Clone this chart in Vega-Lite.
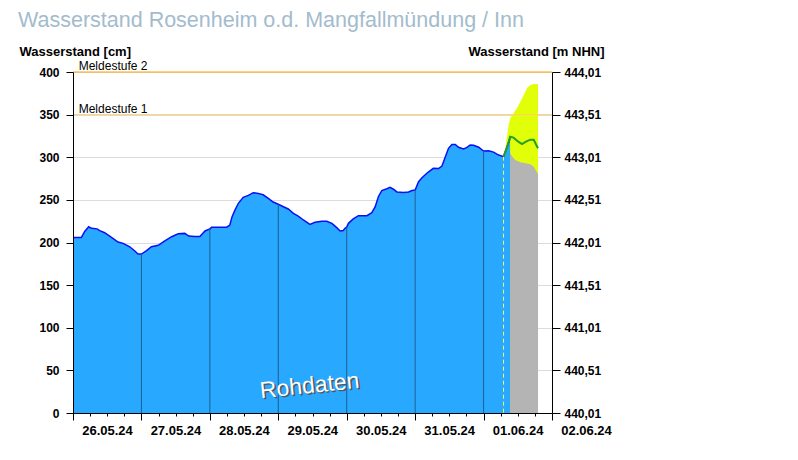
{
  "$schema": "https://vega.github.io/schema/vega-lite/v6.json",
  "width": 479,
  "height": 341,
  "padding": {"left": 18, "top": 9, "right": 5, "bottom": 5},
  "background": "white",
  "title": {
    "text": "Wasserstand Rosenheim o.d. Mangfallmündung / Inn",
    "anchor": "start",
    "frame": "group",
    "dx": -55,
    "fontSize": 21.5,
    "font": "Liberation Sans",
    "fontWeight": "normal",
    "color": "#a3bccd",
    "offset": 14
  },
  "config": {
    "view": {"stroke": null},
    "font": "Liberation Sans",
    "axis": {
      "labelFont": "Liberation Sans",
      "labelFontWeight": "bold",
      "labelColor": "black",
      "domainColor": "black",
      "tickColor": "black",
      "titleFont": "Liberation Sans",
      "titleColor": "black",
      "titleFontWeight": "bold"
    }
  },
  "datasets": {
    "obs": [
      {"time": "2024-05-26T00:00", "value": 206},
      {"time": "2024-05-26T02:57", "value": 206},
      {"time": "2024-05-26T04:06", "value": 213},
      {"time": "2024-05-26T05:30", "value": 218.5},
      {"time": "2024-05-26T06:30", "value": 216.6},
      {"time": "2024-05-26T08:24", "value": 216},
      {"time": "2024-05-26T09:24", "value": 214},
      {"time": "2024-05-26T11:06", "value": 211.5},
      {"time": "2024-05-26T13:30", "value": 206},
      {"time": "2024-05-26T15:48", "value": 200.6},
      {"time": "2024-05-26T17:36", "value": 199},
      {"time": "2024-05-26T19:54", "value": 195},
      {"time": "2024-05-26T21:42", "value": 190},
      {"time": "2024-05-26T22:48", "value": 186.5},
      {"time": "2024-05-27T00:00", "value": 186.5},
      {"time": "2024-05-27T01:48", "value": 190.4},
      {"time": "2024-05-27T03:30", "value": 195},
      {"time": "2024-05-27T05:54", "value": 196.7},
      {"time": "2024-05-27T08:12", "value": 202},
      {"time": "2024-05-27T10:36", "value": 206.8},
      {"time": "2024-05-27T12:54", "value": 210.3},
      {"time": "2024-05-27T15:12", "value": 210.7},
      {"time": "2024-05-27T16:36", "value": 207.6},
      {"time": "2024-05-27T18:42", "value": 207},
      {"time": "2024-05-27T20:30", "value": 207},
      {"time": "2024-05-27T22:18", "value": 213.5},
      {"time": "2024-05-28T00:00", "value": 216},
      {"time": "2024-05-28T00:36", "value": 217.8},
      {"time": "2024-05-28T05:54", "value": 218},
      {"time": "2024-05-28T07:00", "value": 220.5},
      {"time": "2024-05-28T07:48", "value": 230.3},
      {"time": "2024-05-28T08:48", "value": 238},
      {"time": "2024-05-28T10:00", "value": 246},
      {"time": "2024-05-28T11:42", "value": 253},
      {"time": "2024-05-28T13:30", "value": 255.3},
      {"time": "2024-05-28T15:12", "value": 258.4},
      {"time": "2024-05-28T17:00", "value": 257.6},
      {"time": "2024-05-28T18:42", "value": 256},
      {"time": "2024-05-28T20:30", "value": 251.8},
      {"time": "2024-05-28T22:12", "value": 247.5},
      {"time": "2024-05-29T00:00", "value": 244.8},
      {"time": "2024-05-29T01:48", "value": 242},
      {"time": "2024-05-29T03:30", "value": 239.3},
      {"time": "2024-05-29T05:18", "value": 234.2},
      {"time": "2024-05-29T07:00", "value": 231},
      {"time": "2024-05-29T08:48", "value": 226.4},
      {"time": "2024-05-29T11:06", "value": 221.3},
      {"time": "2024-05-29T12:54", "value": 223.7},
      {"time": "2024-05-29T15:12", "value": 224.9},
      {"time": "2024-05-29T17:00", "value": 225},
      {"time": "2024-05-29T18:48", "value": 222.5},
      {"time": "2024-05-29T20:30", "value": 217.4},
      {"time": "2024-05-29T21:42", "value": 213.5},
      {"time": "2024-05-29T22:48", "value": 214},
      {"time": "2024-05-29T23:24", "value": 216.6},
      {"time": "2024-05-30T00:00", "value": 218},
      {"time": "2024-05-30T00:36", "value": 222.5},
      {"time": "2024-05-30T02:18", "value": 227.6},
      {"time": "2024-05-30T04:06", "value": 231.5},
      {"time": "2024-05-30T07:06", "value": 231.5},
      {"time": "2024-05-30T08:48", "value": 235},
      {"time": "2024-05-30T10:00", "value": 242},
      {"time": "2024-05-30T11:06", "value": 253.7},
      {"time": "2024-05-30T12:18", "value": 260.8},
      {"time": "2024-05-30T14:06", "value": 263},
      {"time": "2024-05-30T15:12", "value": 264.7},
      {"time": "2024-05-30T16:24", "value": 262.5},
      {"time": "2024-05-30T17:36", "value": 259.3},
      {"time": "2024-05-30T19:54", "value": 258.6},
      {"time": "2024-05-30T21:42", "value": 259.3},
      {"time": "2024-05-30T22:54", "value": 261},
      {"time": "2024-05-31T00:00", "value": 261.6},
      {"time": "2024-05-31T01:12", "value": 271.3},
      {"time": "2024-05-31T02:24", "value": 276},
      {"time": "2024-05-31T04:06", "value": 281.2},
      {"time": "2024-05-31T05:18", "value": 284.3},
      {"time": "2024-05-31T06:24", "value": 287},
      {"time": "2024-05-31T08:12", "value": 286.8},
      {"time": "2024-05-31T09:24", "value": 289.7},
      {"time": "2024-05-31T10:36", "value": 300.7},
      {"time": "2024-05-31T11:42", "value": 310.5},
      {"time": "2024-05-31T12:54", "value": 315},
      {"time": "2024-05-31T14:06", "value": 315},
      {"time": "2024-05-31T15:12", "value": 311.7},
      {"time": "2024-05-31T17:00", "value": 309.7},
      {"time": "2024-05-31T18:12", "value": 311.5},
      {"time": "2024-05-31T19:18", "value": 314.4},
      {"time": "2024-05-31T20:30", "value": 314},
      {"time": "2024-05-31T22:18", "value": 311.7},
      {"time": "2024-06-01T00:00", "value": 307.3},
      {"time": "2024-06-01T01:48", "value": 307.5},
      {"time": "2024-06-01T03:30", "value": 306},
      {"time": "2024-06-01T05:18", "value": 302.6},
      {"time": "2024-06-01T07:00", "value": 300.7},
      {"time": "2024-06-01T07:36", "value": 306.5},
      {"time": "2024-06-01T08:24", "value": 314},
      {"time": "2024-06-01T09:18", "value": 322}
    ],
    "band": [
      {"time": "2024-06-01T07:00", "upper": 300},
      {"time": "2024-06-01T07:36", "upper": 310},
      {"time": "2024-06-01T08:48", "upper": 337.8},
      {"time": "2024-06-01T09:18", "upper": 345.6},
      {"time": "2024-06-01T10:30", "upper": 351.5},
      {"time": "2024-06-01T11:42", "upper": 357.4},
      {"time": "2024-06-01T12:54", "upper": 365},
      {"time": "2024-06-01T14:06", "upper": 373},
      {"time": "2024-06-01T15:12", "upper": 380.9},
      {"time": "2024-06-01T16:24", "upper": 384.8},
      {"time": "2024-06-01T17:36", "upper": 386},
      {"time": "2024-06-01T19:06", "upper": 386}
    ],
    "low": [
      {"time": "2024-06-01T09:18", "value": 304.6},
      {"time": "2024-06-01T09:54", "value": 301.5},
      {"time": "2024-06-01T11:06", "value": 296.8},
      {"time": "2024-06-01T12:54", "value": 294},
      {"time": "2024-06-01T14:42", "value": 293},
      {"time": "2024-06-01T16:24", "value": 291.7},
      {"time": "2024-06-01T17:36", "value": 289},
      {"time": "2024-06-01T18:48", "value": 282},
      {"time": "2024-06-01T19:06", "value": 280}
    ],
    "mid": [
      {"time": "2024-06-01T07:00", "value": 300.7},
      {"time": "2024-06-01T08:18", "value": 312},
      {"time": "2024-06-01T09:18", "value": 324},
      {"time": "2024-06-01T10:30", "value": 323},
      {"time": "2024-06-01T12:18", "value": 318},
      {"time": "2024-06-01T13:30", "value": 315.5},
      {"time": "2024-06-01T14:42", "value": 318},
      {"time": "2024-06-01T16:24", "value": 320.6},
      {"time": "2024-06-01T17:36", "value": 320.6},
      {"time": "2024-06-01T18:48", "value": 312.4},
      {"time": "2024-06-01T19:06", "value": 310.5}
    ],
    "days": [
      {"time": "2024-05-27T00:00", "value": 186.5},
      {"time": "2024-05-28T00:00", "value": 216},
      {"time": "2024-05-29T00:00", "value": 244.8},
      {"time": "2024-05-30T00:00", "value": 218},
      {"time": "2024-05-31T00:00", "value": 261.6},
      {"time": "2024-06-01T00:00", "value": 307.3}
    ],
    "now": [
      {"time": "2024-06-01T07:00", "value": 300.7}
    ],
    "levels": [
      {"name": "Meldestufe 1", "level": 350},
      {"name": "Meldestufe 2", "level": 400}
    ],
    "note": [
      {"label": "Rohdaten"}
    ]
  },
  "resolve": {"axis": {"x": "independent", "y": "independent"}},
  "layer": [
    {
      "data": {"name": "band"},
      "mark": {"type": "area", "color": "#e2ff0a", "opacity": 1},
      "encoding": {
        "x": {
          "field": "time", "type": "temporal",
          "scale": {"domain": [{"year": 2024, "month": 5, "date": 26}, {"year": 2024, "month": 6, "date": 2}], "nice": false},
          "axis": {
            "orient": "bottom",
            "values": [
              {"year": 2024, "month": 5, "date": 26},
              {"year": 2024, "month": 5, "date": 27},
              {"year": 2024, "month": 5, "date": 28},
              {"year": 2024, "month": 5, "date": 29},
              {"year": 2024, "month": 5, "date": 30},
              {"year": 2024, "month": 5, "date": 31},
              {"year": 2024, "month": 6, "date": 1},
              {"year": 2024, "month": 6, "date": 2}
            ],
            "format": "%d.%m.%y",
            "labelOffset": 34,
            "labelFlush": false,
            "labelOverlap": false,
            "labelBound": false,
            "tickSize": 7,
            "labelPadding": 4,
            "labelFontSize": 13,
            "grid": false,
            "title": null,
            "zindex": 1
          }
        },
        "y": {
          "field": "upper", "type": "quantitative",
          "scale": {"domain": [0, 400], "nice": false},
          "axis": {
            "orient": "left",
            "values": [50, 100, 150, 200, 250, 300, 350, 400],
            "grid": true, "gridColor": "#dcdcdc", "gridWidth": 1,
            "labels": false, "ticks": false, "domain": false, "title": null, "zindex": 0
          }
        }
      }
    },
    {
      "data": {"name": "low"},
      "mark": {"type": "area", "color": "#b4b4b4", "opacity": 1},
      "encoding": {
        "x": {
          "field": "time", "type": "temporal",
          "axis": {
            "orient": "bottom",
            "values": [
              {"year": 2024, "month": 5, "date": 26, "hours": 6},
              {"year": 2024, "month": 5, "date": 26, "hours": 12},
              {"year": 2024, "month": 5, "date": 26, "hours": 18},
              {"year": 2024, "month": 5, "date": 27, "hours": 6},
              {"year": 2024, "month": 5, "date": 27, "hours": 12},
              {"year": 2024, "month": 5, "date": 27, "hours": 18},
              {"year": 2024, "month": 5, "date": 28, "hours": 6},
              {"year": 2024, "month": 5, "date": 28, "hours": 12},
              {"year": 2024, "month": 5, "date": 28, "hours": 18},
              {"year": 2024, "month": 5, "date": 29, "hours": 6},
              {"year": 2024, "month": 5, "date": 29, "hours": 12},
              {"year": 2024, "month": 5, "date": 29, "hours": 18},
              {"year": 2024, "month": 5, "date": 30, "hours": 6},
              {"year": 2024, "month": 5, "date": 30, "hours": 12},
              {"year": 2024, "month": 5, "date": 30, "hours": 18},
              {"year": 2024, "month": 5, "date": 31, "hours": 6},
              {"year": 2024, "month": 5, "date": 31, "hours": 12},
              {"year": 2024, "month": 5, "date": 31, "hours": 18},
              {"year": 2024, "month": 6, "date": 1, "hours": 6},
              {"year": 2024, "month": 6, "date": 1, "hours": 12},
              {"year": 2024, "month": 6, "date": 1, "hours": 18}
            ],
            "labels": false, "domain": false, "grid": false, "tickSize": 3, "title": null, "zindex": 1
          }
        },
        "y": {"field": "value", "type": "quantitative", "axis": null}
      }
    },
    {
      "data": {"name": "obs"},
      "mark": {"type": "area", "color": "#29a8ff", "opacity": 1, "line": {"color": "#0a10f5", "strokeWidth": 1.5}},
      "encoding": {
        "x": {"field": "time", "type": "temporal", "axis": null},
        "y": {
          "field": "value", "type": "quantitative",
          "axis": {
            "orient": "left",
            "values": [0, 50, 100, 150, 200, 250, 300, 350, 400],
            "grid": false,
            "tickSize": 7,
            "labelPadding": 7,
            "labelFontSize": 12,
            "title": "Wasserstand [cm]",
            "titleAngle": 0,
            "titleX": -54,
            "titleY": -17,
            "titleAlign": "left",
            "titleBaseline": "alphabetic",
            "titleFontSize": 13,
            "zindex": 1
          }
        }
      }
    },
    {
      "data": {"name": "days"},
      "mark": {"type": "rule", "color": "#1f5f8e", "strokeWidth": 1},
      "encoding": {
        "x": {"field": "time", "type": "temporal", "axis": null},
        "y": {"field": "value", "type": "quantitative", "axis": null},
        "y2": {"datum": 0}
      }
    },
    {
      "data": {"name": "now"},
      "mark": {"type": "rule", "color": "#eef56a", "strokeWidth": 1, "strokeDash": [4, 3]},
      "encoding": {
        "x": {"field": "time", "type": "temporal", "axis": null},
        "y": {"field": "value", "type": "quantitative", "axis": null},
        "y2": {"datum": 0}
      }
    },
    {
      "data": {"name": "mid"},
      "mark": {"type": "line", "color": "#22a01e", "strokeWidth": 2},
      "encoding": {
        "x": {"field": "time", "type": "temporal", "axis": null},
        "y": {"field": "value", "type": "quantitative", "axis": null}
      }
    },
    {
      "data": {"name": "levels"},
      "mark": {"type": "rule", "strokeWidth": 1, "opacity": 1},
      "encoding": {
        "y": {
          "field": "level", "type": "quantitative",
          "axis": {
            "orient": "right",
            "values": [0, 50, 100, 150, 200, 250, 300, 350, 400],
            "labelExpr": "replace(format(datum.value / 100 + 440.01, '.2f'), '.', ',')",
            "grid": false,
            "tickSize": 8,
            "labelPadding": 4,
            "labelFontSize": 12,
            "title": "Wasserstand [m NHN]",
            "titleAngle": 0,
            "titleX": 52,
            "titleY": -17,
            "titleAlign": "right",
            "titleBaseline": "alphabetic",
            "titleFontSize": 13,
            "zindex": 1
          }
        },
        "color": {"field": "name", "type": "nominal", "scale": {"domain": ["Meldestufe 1", "Meldestufe 2"], "range": ["#ffcf6e", "#ffa200"]}, "legend": null}
      }
    },
    {
      "data": {"name": "levels"},
      "mark": {"type": "text", "align": "left", "baseline": "alphabetic", "dy": -2, "fontSize": 12, "color": "black", "font": "Liberation Sans"},
      "encoding": {
        "x": {"datum": {"year": 2024, "month": 5, "date": 26, "hours": 2}, "type": "temporal", "axis": null},
        "y": {"field": "level", "type": "quantitative", "axis": null},
        "text": {"field": "name"}
      }
    },
    {
      "data": {"name": "note"},
      "mark": {"type": "text", "fontSize": 23, "color": "#555555", "angle": 354, "dx": 1.5, "dy": 1.5, "font": "Liberation Sans"},
      "encoding": {
        "x": {"datum": {"year": 2024, "month": 5, "date": 29, "hours": 11, "minutes": 0}, "type": "temporal", "axis": null},
        "y": {"datum": 31.7, "type": "quantitative", "axis": null},
        "text": {"field": "label"}
      }
    },
    {
      "data": {"name": "note"},
      "mark": {"type": "text", "fontSize": 23, "color": "white", "angle": 354, "font": "Liberation Sans"},
      "encoding": {
        "x": {"datum": {"year": 2024, "month": 5, "date": 29, "hours": 11, "minutes": 0}, "type": "temporal", "axis": null},
        "y": {"datum": 31.7, "type": "quantitative", "axis": null},
        "text": {"field": "label"}
      }
    }
  ]
}
